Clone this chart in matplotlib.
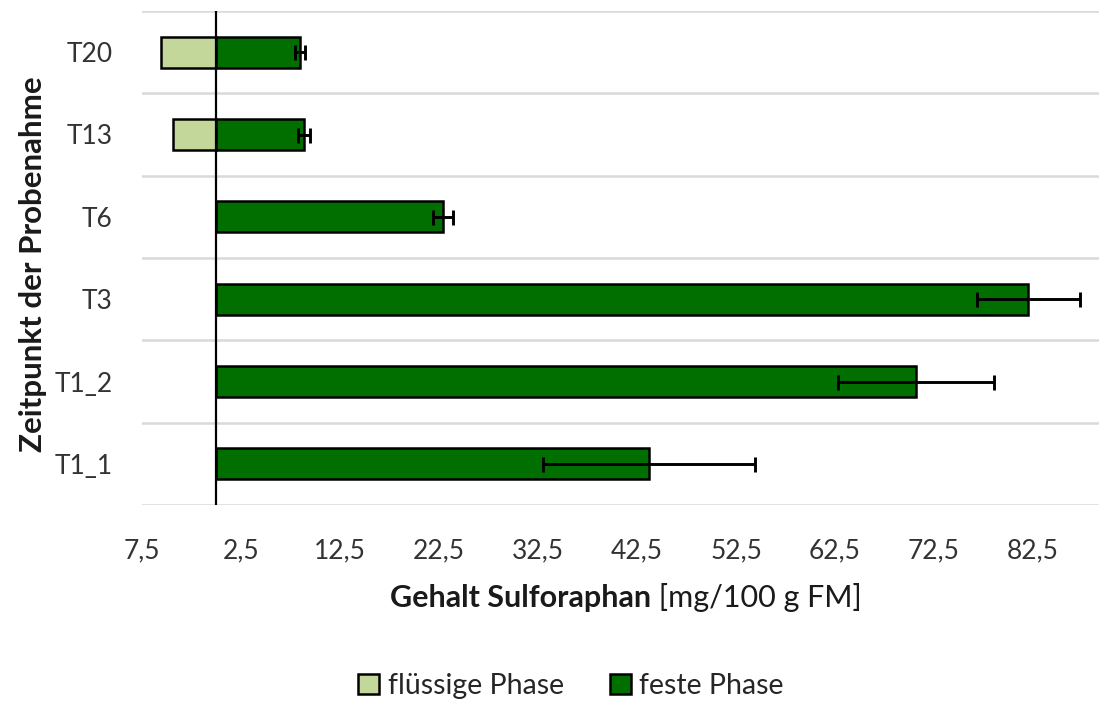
import numpy as np
import matplotlib.pyplot as plt
from matplotlib.ticker import FuncFormatter
from matplotlib.patches import Patch

plt.rcParams['font.family'] = ['Lato', 'DejaVu Sans']

# Probenahme-Zeitpunkte (von unten nach oben)
zeitpunkte = ['T1_1', 'T1_2', 'T3', 'T6', 'T13', 'T20']
fest = [43.7, 70.7, 82.0, 22.9, 8.9, 8.5]
fest_sd = [10.7, 7.9, 5.2, 1.0, 0.6, 0.5]
fluessig = [0, 0, 0, 0, -4.4, -5.6]
ticks = [-7.5, 2.5, 12.5, 22.5, 32.5, 42.5, 52.5, 62.5, 72.5, 82.5]

hell = '#c4d79b'
dunkel = '#006f00'

fig = plt.figure(figsize=(10.99, 7.04), dpi=100)
ax = fig.add_axes([142/1099, 1-505/704, 1-142/1099, (505-11)/704])

y = np.arange(len(zeitpunkte))
h = 0.375
ax.barh(y, fluessig, height=h, color=hell, edgecolor='black', linewidth=1.8, zorder=3)
ax.barh(y, fest, height=h, color=dunkel, edgecolor='black', linewidth=1.8, zorder=3)
ax.errorbar(fest, y, xerr=fest_sd, fmt='none', ecolor='black', elinewidth=2.1,
            capsize=5.4, capthick=2.1, zorder=4)

ax.axvline(0, color='black', lw=1.6, zorder=5)
ax.set_ylim(-0.5, len(zeitpunkte) - 0.5)
ax.set_xlim(-7.5, -7.5 + (1099 - 142) / 9.9)
for b in np.arange(-0.5, len(zeitpunkte)):
    ax.axhline(b, color='#d9d9d9', lw=1.8, zorder=1)

ax.set_yticks(y)
ax.set_yticklabels(zeitpunkte)
ax.set_xticks(ticks)
ax.xaxis.set_major_formatter(FuncFormatter(lambda v, p: f'{abs(v):.1f}'.replace('.', ',')))
ax.tick_params(axis='both', length=0, labelsize=19, labelcolor='#333333')
ax.tick_params(axis='y', pad=21)
ax.tick_params(axis='x', pad=24)
for s in ax.spines.values():
    s.set_visible(False)

# Achsentitel: fetter Teil plus Einheit
t1 = fig.text(651/1099, 1-598/704, 'Gehalt Sulforaphan', fontsize=22, fontweight='bold',
              ha='right', va='center', color='#1a1a1a')
ax.annotate(' [mg/100 g FM]', xy=(1, 0.5), xycoords=t1, ha='left', va='center',
            fontsize=22, color='#1a1a1a', annotation_clip=False)
fig.text(33/1099, 1-264/704, 'Zeitpunkt der Probenahme', fontsize=22.5, fontweight='bold',
         rotation=90, ha='center', va='center', color='#1a1a1a')

handles = [Patch(facecolor=hell, edgecolor='black', linewidth=1.8, label='flüssige Phase'),
           Patch(facecolor=dunkel, edgecolor='black', linewidth=1.8, label='feste Phase')]
fig.legend(handles=handles, loc='center', bbox_to_anchor=(571/1099, 1-686/704), ncol=2,
           frameon=False, fontsize=20.5, handlelength=0.75, handleheight=0.75,
           handletextpad=0.3, columnspacing=1.6, labelcolor='#262626')

fig.savefig('out.png', dpi=100)
